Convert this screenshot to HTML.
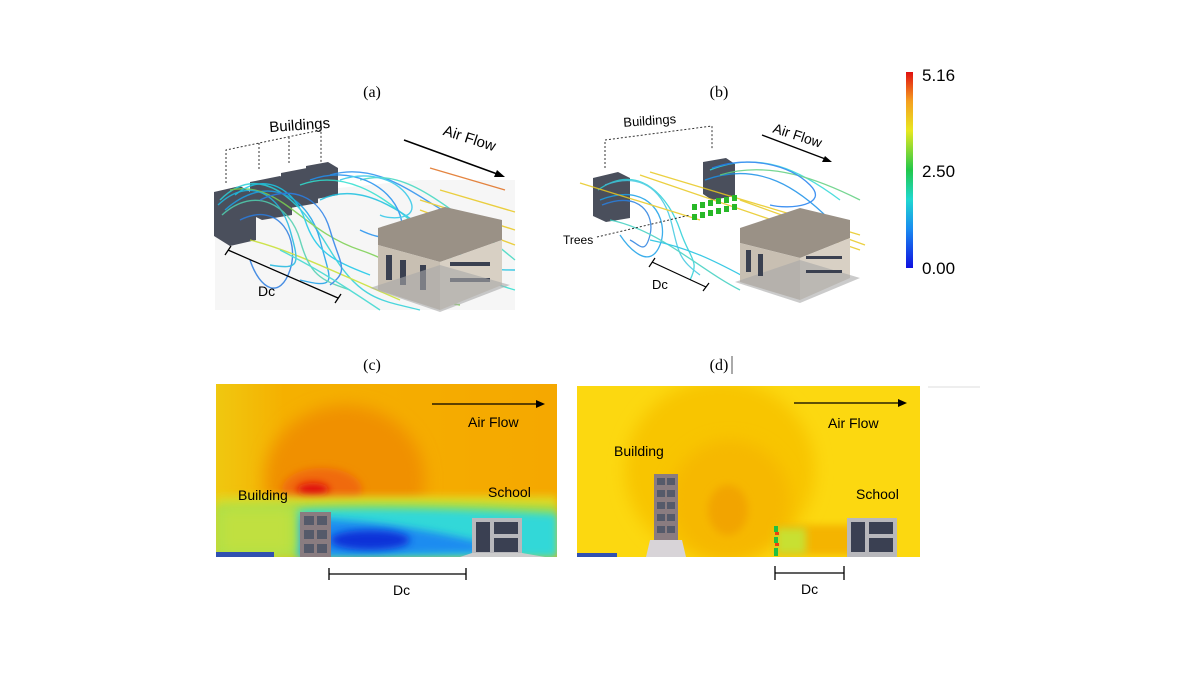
<!DOCTYPE html><html><head><meta charset="utf-8"><style>
body{margin:0;background:#fff;}
svg{display:block}
text{font-family:"Liberation Sans",sans-serif}
.s{font-family:"Liberation Serif",serif}
</style></head><body>
<svg width="1200" height="676" viewBox="0 0 1200 676" xmlns="http://www.w3.org/2000/svg">
<defs>
<filter id="bl" x="-50%" y="-50%" width="200%" height="200%"><feGaussianBlur stdDeviation="8"/></filter>
<filter id="bl2" x="-50%" y="-50%" width="200%" height="200%"><feGaussianBlur stdDeviation="4"/></filter>
<linearGradient id="cb" x1="0" y1="1" x2="0" y2="0">
<stop offset="0" stop-color="#1010e0"/><stop offset="0.2" stop-color="#1a8cf0"/><stop offset="0.35" stop-color="#20d8d0"/><stop offset="0.5" stop-color="#22c84a"/><stop offset="0.7" stop-color="#e8e820"/><stop offset="0.85" stop-color="#f5a020"/><stop offset="1" stop-color="#e01010"/></linearGradient>
<linearGradient id="cl" x1="0" y1="0" x2="1" y2="0"><stop offset="0" stop-color="#f0c810"/><stop offset="0.2" stop-color="#f5b000"/><stop offset="1" stop-color="#f5a800"/></linearGradient>
<clipPath id="cc"><rect x="216" y="384" width="341" height="173"/></clipPath>
<clipPath id="cd"><rect x="577" y="386" width="343" height="171"/></clipPath>
</defs>

<rect x="906" y="72" width="7" height="196" fill="url(#cb)"/>
<text x="922" y="81" font-size="17">5.16</text>
<text x="922" y="177" font-size="17">2.50</text>
<text x="922" y="274" font-size="17">0.00</text>

<text class="s" x="372" y="97" font-size="16" text-anchor="middle">(a)</text>
<text class="s" x="719" y="97" font-size="16" text-anchor="middle">(b)</text>
<text class="s" x="372" y="370" font-size="16" text-anchor="middle">(c)</text>
<text class="s" x="719" y="370" font-size="16" text-anchor="middle">(d)</text>
<line x1="732" y1="356" x2="732" y2="374" stroke="#555"/>
<line x1="928" y1="387" x2="980" y2="387" stroke="#ddd"/>

<!-- panel a -->
<polygon points="215,200 420,180 515,180 515,310 215,310" fill="#f6f6f6"/>
<text x="300" y="130" font-size="15" transform="rotate(-4 300 130)" text-anchor="middle">Buildings</text>
<path d="M226,183 V150 L321,130 V162 M259,143 V170 M289,137 V165" fill="none" stroke="#333" stroke-dasharray="2,2"/>
<text x="468" y="143" font-size="15" transform="rotate(18 468 143)" text-anchor="middle">Air Flow</text>
<line x1="404" y1="140" x2="500" y2="175" stroke="#000" stroke-width="1.5"/><polygon points="505,177 494,177 497,170" fill="#000"/>
<g fill="#4a4f5c"><polygon points="214,192 240,186 256,195 256,240 230,246 214,236"/><polygon points="250,182 280,176 292,182 292,215 262,220 250,214"/><polygon points="281,173 307,168 318,174 318,203 290,208 281,202"/><polygon points="306,166 328,162 338,168 338,195 316,199 306,193"/></g>
<g fill="none" stroke-width="1.4" opacity="0.85">
<path d="M220,200 C260,160 300,200 330,250 S380,300 420,310" stroke="#2bd0d8"/>
<path d="M225,210 C270,170 310,200 320,240 S340,290 300,280" stroke="#1aa0e8"/>
<path d="M230,190 C280,180 300,230 360,250 S420,300 460,305" stroke="#7ad050"/>
<path d="M240,220 C280,200 300,240 290,270 S260,290 250,260" stroke="#2a7ce0"/>
<path d="M300,185 C340,170 380,190 420,230 S480,280 515,290" stroke="#30e0d0"/>
<path d="M320,200 C360,180 400,210 440,240 S490,270 515,270" stroke="#1ac0e0"/>
<path d="M330,175 C380,160 420,200 460,220" stroke="#2a90f0"/>
<path d="M420,200 L515,230 M420,210 L515,245 M440,190 L515,212" stroke="#e8c820"/>
<path d="M430,168 L505,190" stroke="#e07020"/>
<path d="M360,180 C400,170 430,190 515,260" stroke="#40d8c0"/>
<path d="M250,240 C290,250 330,270 400,300" stroke="#c8e030"/>
<path d="M218,205 C250,175 280,195 290,230 S300,270 270,265" stroke="#20b8e0"/>
<path d="M222,215 C255,185 290,205 300,240 S320,280 350,290" stroke="#50d0b0"/>
<path d="M235,195 C265,170 295,190 305,220 S330,260 370,275" stroke="#18c8e8"/>
<path d="M260,200 C290,185 320,195 330,230 S350,270 330,285" stroke="#2a80e8"/>
<path d="M310,180 C350,165 390,185 400,215 S380,240 360,230" stroke="#2090f0"/>
<path d="M340,180 C370,170 400,180 410,200 S390,220 380,215" stroke="#30c8e8"/>
<path d="M280,250 C320,270 350,290 380,310" stroke="#3ad8d0"/>
</g>
<polygon points="378,228 445,207 502,220 502,240 440,262 378,245" fill="#9a9186"/>
<polygon points="378,245 440,262 440,310 378,290" fill="#c8bfb2"/>
<polygon points="440,262 502,240 502,285 440,310" fill="#d8d0c4"/>
<g fill="#3a4050"><rect x="386" y="255" width="6" height="25"/><rect x="400" y="260" width="6" height="25"/><rect x="420" y="265" width="6" height="25"/><rect x="450" y="262" width="40" height="4"/><rect x="450" y="278" width="40" height="4"/></g>
<polygon points="370,288 440,312 510,285 440,265" fill="#a8a8a8" opacity="0.6"/>
<path d="M228,250 L338,298 M225,255 L231,246 M335,303 L341,294" stroke="#000" stroke-width="1.3"/>
<text x="258" y="296" font-size="14">Dc</text>

<!-- panel b -->
<text x="650" y="125" font-size="13" transform="rotate(-4 650 125)" text-anchor="middle">Buildings</text>
<path d="M605,168 V140 L712,126 V150" fill="none" stroke="#333" stroke-dasharray="2,2"/>
<text x="796" y="140" font-size="14" transform="rotate(18 796 140)" text-anchor="middle">Air Flow</text>
<line x1="762" y1="135" x2="828" y2="160" stroke="#000" stroke-width="1.3"/><polygon points="832,162 822,162 825,156" fill="#000"/>
<g fill="#4a4f5c"><polygon points="593,178 618,172 630,178 630,218 606,222 593,216"/><polygon points="703,162 726,158 735,164 735,196 712,200 703,194"/></g>
<g fill="none" stroke-width="1.3" opacity="0.85">
<path d="M598,190 C640,160 670,200 680,230 S700,260 690,280" stroke="#2bd0d8"/>
<path d="M600,200 C650,180 670,220 660,245 S630,250 620,235" stroke="#1aa0e8"/>
<path d="M605,185 C645,170 665,195 672,225 S680,260 700,275" stroke="#40c8e0"/>
<path d="M602,205 C640,190 655,215 650,235 S640,245 630,240" stroke="#2a80e0"/>
<path d="M710,170 C760,150 800,170 840,200" stroke="#30d8d8"/>
<path d="M705,180 C760,160 800,190 830,220" stroke="#1a90e8"/>
<path d="M720,175 C770,160 820,180 860,200" stroke="#60d080"/>
<path d="M712,168 C750,155 790,165 810,185 S790,210 770,205" stroke="#2080f0"/>
<path d="M640,175 L860,250 M650,172 L860,235 M580,183 L700,220 M740,200 L865,245" stroke="#e8c820"/>
<path d="M610,220 C660,230 700,270 740,290" stroke="#40d0c0"/>
<path d="M650,240 C700,250 730,270 760,285" stroke="#1ac0e0"/>
</g>
<g fill="#28b828"><rect x="692" y="204" width="5" height="6"/><rect x="700" y="202" width="5" height="6"/><rect x="708" y="200" width="5" height="6"/><rect x="716" y="198" width="5" height="6"/><rect x="724" y="197" width="5" height="6"/><rect x="732" y="195" width="5" height="6"/><rect x="692" y="214" width="5" height="6"/><rect x="700" y="212" width="5" height="6"/><rect x="708" y="210" width="5" height="6"/><rect x="716" y="208" width="5" height="6"/><rect x="724" y="206" width="5" height="6"/><rect x="732" y="204" width="5" height="6"/></g>
<polygon points="740,228 800,208 850,220 850,238 800,258 740,243" fill="#9a9186"/>
<polygon points="740,243 800,258 800,300 740,282" fill="#c8bfb2"/>
<polygon points="800,258 850,238 850,278 800,300" fill="#d8d0c4"/>
<polygon points="735,282 800,303 860,278 800,260" fill="#a8a8a8" opacity="0.6"/>
<g fill="#3a4050"><rect x="746" y="250" width="5" height="22"/><rect x="758" y="254" width="5" height="22"/><rect x="806" y="256" width="36" height="3"/><rect x="806" y="270" width="36" height="3"/></g>
<text x="563" y="244" font-size="12">Trees</text>
<path d="M597,237 L690,215" stroke="#333" stroke-dasharray="2,2"/>
<path d="M652,262 L706,287 M649,267 L655,258 M703,291 L709,283" stroke="#000" stroke-width="1.2"/>
<text x="652" y="289" font-size="13">Dc</text>

<!-- panel c -->
<g clip-path="url(#cc)">
<rect x="216" y="384" width="341" height="173" fill="url(#cl)"/>
<ellipse cx="345" cy="480" rx="80" ry="75" fill="#f09000" filter="url(#bl)"/>
<ellipse cx="322" cy="490" rx="40" ry="22" fill="#f06a10" filter="url(#bl2)"/>
<ellipse cx="313" cy="490" rx="16" ry="7" fill="#e01010" filter="url(#bl2)"/>
<rect x="216" y="496" width="341" height="14" fill="#e0d820" filter="url(#bl2)"/>
<path d="M216,506 L300,504 Q400,500 557,506 L557,557 L216,557 Z" fill="#9ce050" filter="url(#bl2)"/>
<path d="M296,510 Q400,506 557,514 L557,557 L296,557 Z" fill="#30d8d8" filter="url(#bl2)"/>
<path d="M300,518 Q400,520 520,552 L300,557 Z" fill="#1a8cf0" filter="url(#bl2)"/>
<ellipse cx="370" cy="540" rx="40" ry="10" fill="#1030d8" filter="url(#bl2)"/>
<rect x="216" y="505" width="80" height="52" fill="#c0e040" filter="url(#bl)"/>
<rect x="216" y="552" width="58" height="5" fill="#3050b0"/>
</g>
<rect x="300" y="512" width="31" height="45" fill="#8a7c80"/>
<g fill="#555a6a"><rect x="304" y="516" width="10" height="9"/><rect x="317" y="516" width="10" height="9"/><rect x="304" y="530" width="10" height="9"/><rect x="317" y="530" width="10" height="9"/><rect x="304" y="544" width="10" height="9"/><rect x="317" y="544" width="10" height="9"/></g>
<rect x="472" y="518" width="50" height="39" fill="#b8b8bc"/><polygon points="460,557 472,553 522,553 545,557" fill="#ccc"/>
<g fill="#3a4052"><rect x="476" y="522" width="14" height="30"/><rect x="494" y="522" width="24" height="12"/><rect x="494" y="538" width="24" height="14"/></g>
<text x="238" y="500" font-size="14">Building</text>
<text x="488" y="497" font-size="14">School</text>
<text x="468" y="427" font-size="14">Air Flow</text>
<line x1="432" y1="404" x2="538" y2="404" stroke="#000" stroke-width="1.3"/><polygon points="545,404 536,400 536,408" fill="#000"/>
<path d="M329,568 V580 M329,574 H466 M466,568 V580" stroke="#000" stroke-width="1.3" fill="none"/>
<text x="393" y="595" font-size="14">Dc</text>

<!-- panel d -->
<g clip-path="url(#cd)">
<rect x="577" y="386" width="343" height="171" fill="#fcd810"/>
<ellipse cx="720" cy="470" rx="95" ry="90" fill="#f8c500" filter="url(#bl)"/>
<ellipse cx="730" cy="500" rx="60" ry="60" fill="#f6b800" filter="url(#bl)"/>
<ellipse cx="728" cy="510" rx="20" ry="25" fill="#f2a400" filter="url(#bl2)"/>
<rect x="775" y="525" width="80" height="30" fill="#f4b400" filter="url(#bl2)"/>
<rect x="776" y="528" width="30" height="26" fill="#c8e030" filter="url(#bl2)"/>
<rect x="577" y="553" width="40" height="4" fill="#3050b0"/>
</g>
<g fill="#20c040"><rect x="774" y="526" width="4" height="6"/><rect x="774" y="537" width="4" height="6"/><rect x="774" y="548" width="4" height="8"/></g>
<g fill="#f04010"><rect x="775" y="532" width="4" height="3"/><rect x="775" y="543" width="4" height="3"/></g>
<rect x="654" y="474" width="24" height="68" fill="#8a7c80"/>
<g fill="#555a6a"><rect x="657" y="478" width="8" height="7"/><rect x="667" y="478" width="8" height="7"/><rect x="657" y="490" width="8" height="7"/><rect x="667" y="490" width="8" height="7"/><rect x="657" y="502" width="8" height="7"/><rect x="667" y="502" width="8" height="7"/><rect x="657" y="514" width="8" height="7"/><rect x="667" y="514" width="8" height="7"/><rect x="657" y="526" width="8" height="7"/><rect x="667" y="526" width="8" height="7"/></g>
<polygon points="646,557 650,540 682,540 686,557" fill="#d8d4d8"/>
<rect x="847" y="518" width="50" height="39" fill="#b8b8bc"/>
<g fill="#3a4052"><rect x="851" y="522" width="14" height="30"/><rect x="869" y="522" width="24" height="12"/><rect x="869" y="538" width="24" height="14"/></g>
<text x="614" y="456" font-size="14">Building</text>
<text x="856" y="499" font-size="14">School</text>
<text x="828" y="428" font-size="14">Air Flow</text>
<line x1="794" y1="403" x2="900" y2="403" stroke="#000" stroke-width="1.3"/><polygon points="907,403 898,399 898,407" fill="#000"/>
<path d="M775,566 V580 M775,573 H844 M844,566 V580" stroke="#000" stroke-width="1.3" fill="none"/>
<text x="801" y="594" font-size="14">Dc</text>
</svg>
</body></html>
